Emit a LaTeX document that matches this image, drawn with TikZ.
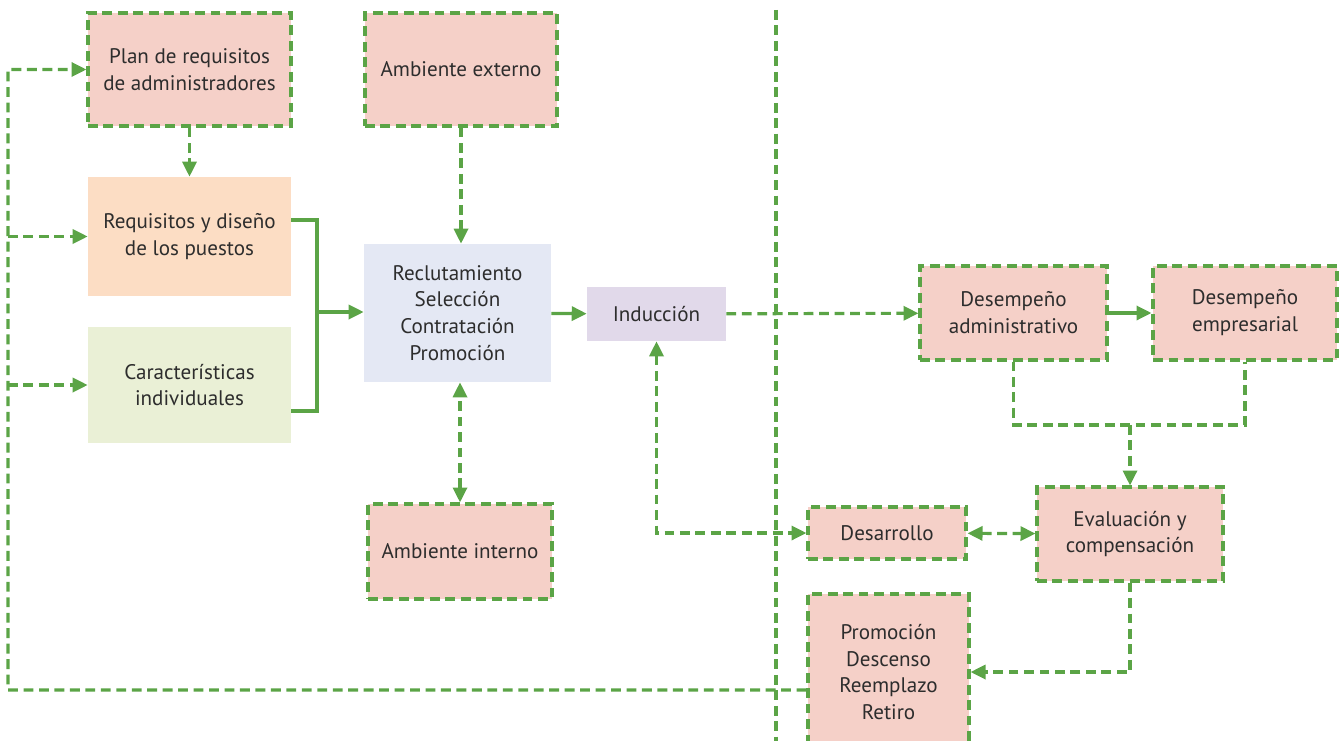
\documentclass[tikz,border=0pt]{standalone}
\usepackage{fontspec}
\setmainfont{PT Sans}
\usetikzlibrary{arrows.meta, positioning, calc}
\definecolor{lineg}{RGB}{91,164,70}
\definecolor{rosa}{RGB}{245,208,200}
\definecolor{melon}{RGB}{252,221,196}
\definecolor{lima}{RGB}{234,240,214}
\definecolor{azul}{RGB}{228,232,244}
\definecolor{lila}{RGB}{225,217,234}
\definecolor{texto}{RGB}{45,45,45}

\begin{document}
\begin{tikzpicture}[
          x=0.02cm, y=-0.02cm,
          box/.style={rectangle, inner sep=2pt, align=center, text=texto,
                      font=\fontsize{12}{15.3}\selectfont},
          dbox/.style={box, fill=rosa, draw=lineg, line width=1.8pt,
                       dash pattern=on 5.6pt off 3.2pt},
          sline/.style={draw=lineg, line width=1.8pt},
          dline/.style={sline, dash pattern=on 5.6pt off 3.2pt},
          tip/.style={-{Triangle[length=8.5pt,width=8pt]}},
          tips/.style={{Triangle[length=8.5pt,width=8pt]}-{Triangle[length=8.5pt,width=8pt]}}
        ]
        \useasboundingbox (0,0) rectangle (1344,740);
        % left column
        \node[dbox, minimum width=4.06cm, minimum height=2.26cm] (plan) at (189.5,69.5) {Plan de requisitos\\de administradores};
        \node[box, fill=melon, minimum width=4.06cm, minimum height=2.38cm] (req) at (189.5,236.5) {Requisitos y diseño\\de los puestos};
        \node[box, fill=lima, minimum width=4.06cm, minimum height=2.32cm] (car) at (189.5,385) {Características\\individuales};
        % middle column
        \node[dbox, minimum width=3.84cm, minimum height=2.26cm] (ext) at (461,69.5) {Ambiente externo};
        \node[box, fill=azul, minimum width=3.74cm, minimum height=2.76cm] (rec) at (457.5,313) {Reclutamiento\\Selección\\Contratación\\Promoción};
        \node[dbox, minimum width=3.68cm, minimum height=1.9cm] (int) at (460,551.5) {Ambiente interno};
        \node[box, fill=lila, minimum width=2.78cm, minimum height=1.08cm] (ind) at (656.5,314) {Inducción};
        % right side
        \node[dbox, minimum width=3.74cm, minimum height=1.88cm] (dadm) at (1013.5,313) {Desempeño\\administrativo};
        \node[dbox, minimum width=3.68cm, minimum height=1.88cm] (demp) at (1245,313) {Desempeño\\empresarial};
        \node[dbox, minimum width=3.72cm, minimum height=1.88cm] (eval) at (1130,534) {Evaluación y\\compensación};
        \node[dbox, minimum width=3.16cm, minimum height=1.04cm] (des) at (887,533) {Desarrollo};
        \node[dbox, minimum width=3.22cm, minimum height=3.12cm] (prom) at (888.5,672) {Promoción\\Descenso\\Reemplazo\\Retiro};
        % divider
        \coordinate (top) at (776,10);
        \coordinate (bot) at (776,745);
        \draw[dline] (top) -- (bot);
        % feedback loop
        \coordinate (lp) at (8,690);
        \draw[dline, tip] ([yshift=-0.36cm]prom.west) -- (lp) |- (plan.west);
        \draw[dline, tip] (lp |- req.west) -- (req.west);
        \draw[dline, tip] (lp |- car.west) -- (car.west);
        \draw[dline, tip] (plan) -- (req);
        % inputs to recruiting
        \coordinate (jn) at (317,312);
        \draw[sline] ([yshift=0.33cm]req.east) -| (jn) |- ([yshift=-0.52cm]car.east);
        \draw[sline, tip] (jn) -- (jn -| rec.west);
        \draw[dline, tip] (ext.south) -- (ext.south |- rec.north);
        \draw[dline, tips] (int.north) -- (int.north |- rec.south);
        \draw[sline, tip] (rec) -- (ind);
        \draw[dline, tip] (ind) -- (dadm);
        \draw[sline, tip] (dadm) -- (demp);
        % evaluation
        \coordinate (br) at (1130,425);
        \draw[dline] (dadm.south) |- (br) -| (demp.south);
        \draw[dline, tip] (br) -- (eval);
        \draw[dline, tips] (ind.south) |- (des.west);
        \draw[dline, tips] (des) -- (eval);
        \draw[dline, tip] (eval.south) |- (prom.east);
      \end{tikzpicture}
\end{document}
